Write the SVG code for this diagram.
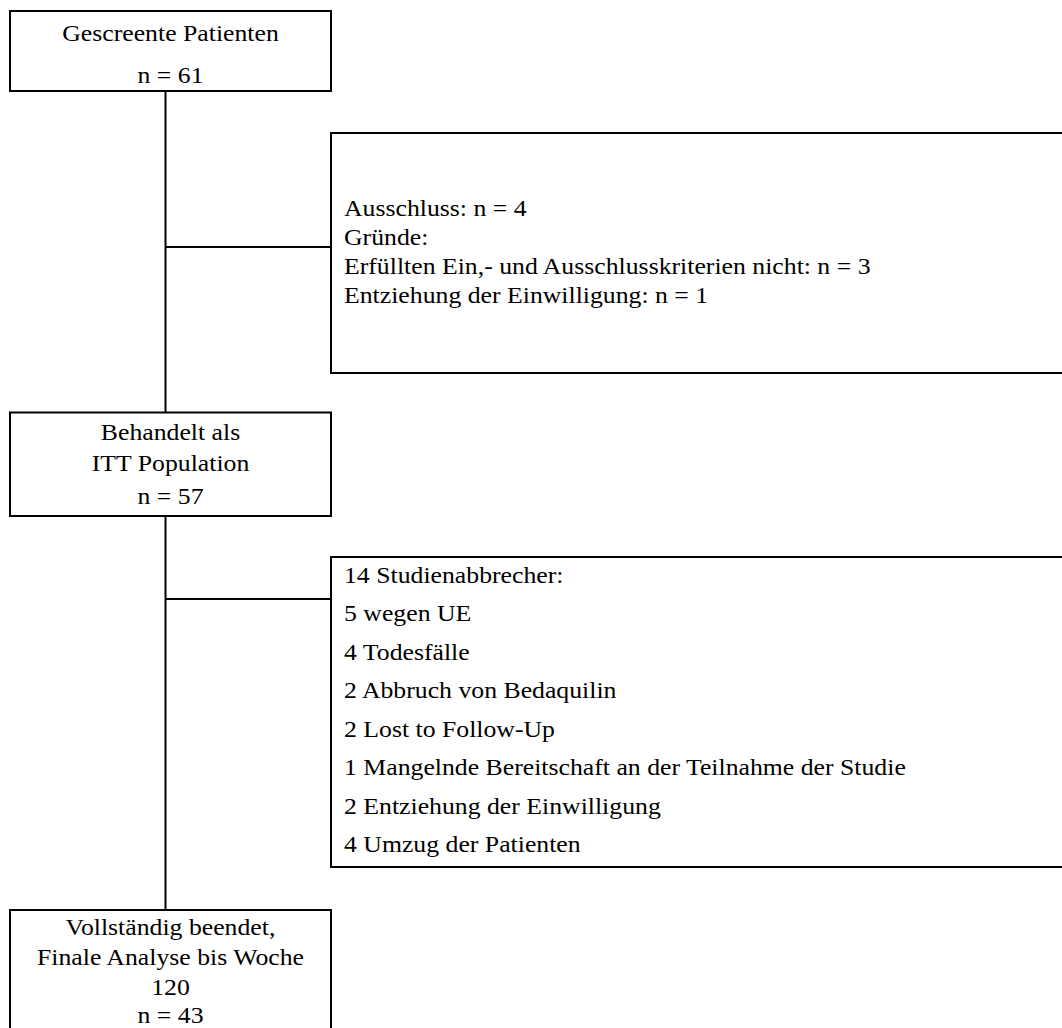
<svg xmlns="http://www.w3.org/2000/svg" width="1062" height="1028" viewBox="0 0 1062 1028">
<style>
.box{fill:#fff;stroke:#000;stroke-width:2}
.ln{fill:none;stroke:#000;stroke-width:2}
text{font-family:"Liberation Serif","Times New Roman",serif;fill:#000;font-size:23px}
.c{text-anchor:middle}
</style>
<rect width="1062" height="1028" fill="#fff"/>
<g id="connectors">
<line class="ln" x1="165.5" y1="91" x2="165.5" y2="910"/>
<line class="ln" x1="165.5" y1="247" x2="331" y2="247"/>
<line class="ln" x1="165.5" y1="599" x2="331" y2="599"/>
</g>
<g id="screened">
<rect class="box" x="10" y="11" width="321" height="80"/>
<g transform="translate(170.5,0) scale(1.12,1)">
<text class="c" x="0" y="41">Gescreente Patienten</text>
<text class="c" x="0" y="83">n = 61</text>
</g>
</g>
<g id="exclusion">
<rect class="box" x="331" y="133" width="740" height="240"/>
<g transform="translate(344,0) scale(1.12,1)">
<text x="0" y="216">Ausschluss: n = 4</text>
<text x="0" y="245">Gründe:</text>
<text x="0" y="274">Erfüllten Ein,- und Ausschlusskriterien nicht: n = 3</text>
<text x="0" y="303">Entziehung der Einwilligung: n = 1</text>
</g>
</g>
<g id="itt">
<rect class="box" x="10" y="412.5" width="321" height="103.5"/>
<g transform="translate(170.5,0) scale(1.12,1)">
<text class="c" x="0" y="440">Behandelt als</text>
<text class="c" x="0" y="471">ITT Population</text>
<text class="c" x="0" y="504">n = 57</text>
</g>
</g>
<g id="dropouts">
<rect class="box" x="331" y="557" width="740" height="310"/>
<g transform="translate(344,0) scale(1.12,1)">
<text x="0" y="583">14 Studienabbrecher:</text>
<text x="0" y="621.5">5 wegen UE</text>
<text x="0" y="660">4 Todesfälle</text>
<text x="0" y="698.5">2 Abbruch von Bedaquilin</text>
<text x="0" y="737">2 Lost to Follow-Up</text>
<text x="0" y="775.5">1 Mangelnde Bereitschaft an der Teilnahme der Studie</text>
<text x="0" y="814">2 Entziehung der Einwilligung</text>
<text x="0" y="852.5">4 Umzug der Patienten</text>
</g>
</g>
<g id="completed">
<rect class="box" x="10" y="910" width="321" height="130"/>
<g transform="translate(170.5,0) scale(1.12,1)">
<text class="c" x="0" y="935">Vollständig beendet,</text>
<text class="c" x="0" y="965">Finale Analyse bis Woche</text>
<text class="c" x="0" y="995">120</text>
<text class="c" x="0" y="1023">n = 43</text>
</g>
</g>
</svg>
